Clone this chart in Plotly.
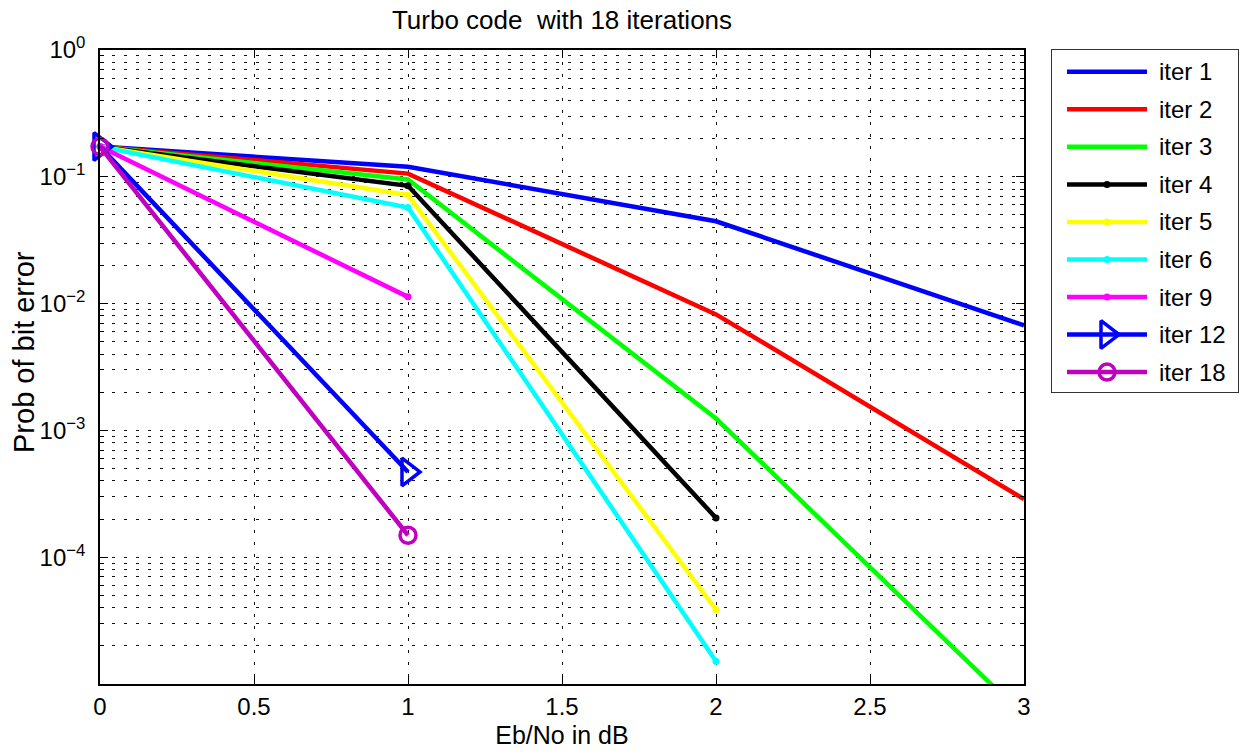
import plotly.graph_objects as go

# Eb/No points (dB) and bit error rates per decoder iteration
ebno_db = [0, 1, 2, 3]

ber_iter1 = [0.173, 0.120, 0.0446, 0.00673]
ber_iter2 = [0.173, 0.106, 0.00822, 2.87e-4]
ber_iter3 = [0.173, 0.0953, 1.24e-3, 5.6e-6]
ber_iter4 = [0.173, 0.0849, 2.04e-4]
ber_iter5 = [0.173, 0.0717, 3.85e-5]
ber_iter6 = [0.173, 0.0573, 1.51e-5]
ber_iter9 = [0.173, 0.0113]
ber_iter12 = [0.173, 4.7e-4]
ber_iter18 = [0.173, 1.49e-4]

series_names = ["iter 1", "iter 2", "iter 3", "iter 4", "iter 5",
                "iter 6", "iter 9", "iter 12", "iter 18"]
series_values = [ber_iter1, ber_iter2, ber_iter3, ber_iter4, ber_iter5,
                 ber_iter6, ber_iter9, ber_iter12, ber_iter18]
series_colors = ["#0000ff", "#ff0000", "#00ff00", "#000000", "#ffff00",
                 "#00ffff", "#ff00ff", "#0000ff", "#bf00bf"]
series_markers = [None, None, None, "dot", "dot", "dot", "dot", "tri", "circ"]

x_ticks = [0, 0.5, 1, 1.5, 2, 2.5, 3]
x_tick_text = ["0", "0.5", "1", "1.5", "2", "2.5", "3"]
y_ticks = [1e-4, 1e-3, 1e-2, 1e-1, 1]
y_tick_text = ["10<sup>\u22124</sup>", "10<sup>\u22123</sup>", "10<sup>\u22122</sup>",
               "10<sup>\u22121</sup>", "10<sup>0</sup>"]
decades = [1e-5, 1e-4, 1e-3, 1e-2, 1e-1]
y_minor = [m * d for d in decades for m in range(2, 10)]

FONT = "Liberation Sans, Arial, sans-serif"
LINE_W = 4.5
GRID_DASH = "3px,9px"

# pixel geometry of the figure
W, H = 1246, 754
ML, MR, MT, MB = 100, 8, 50, 70
PW, PH = W - ML - MR, H - MT - MB
plot_right = 1024
leg_left, leg_bottom = 1052, 392


def marker_style(kind, color):
    if kind == "dot":
        return dict(symbol="circle", size=7, color=color)
    if kind == "tri":
        return dict(symbol="triangle-right-open", size=24, color=color,
                    line=dict(width=3.5, color=color))
    if kind == "circ":
        return dict(symbol="circle-open", size=16, color=color,
                    line=dict(width=3.5, color=color))
    return None


fig = go.Figure()

for name, ber, color, mk in zip(series_names, series_values, series_colors, series_markers):
    xs = ebno_db[:len(ber)]
    kw = dict(x=xs, y=ber, name=name, line=dict(color=color, width=LINE_W),
              showlegend=False, xaxis="x", yaxis="y",
              cliponaxis=(min(ber) < 1e-5))
    if mk:
        kw["mode"] = "lines+markers"
        kw["marker"] = marker_style(mk, color)
    else:
        kw["mode"] = "lines"
    fig.add_trace(go.Scatter(**kw))

# legend panel drawn on its own small axes
for i, (name, color, mk) in enumerate(zip(series_names, series_colors, series_markers)):
    fig.add_trace(go.Scatter(x=[15, 95], y=[i, i], mode="lines",
                             line=dict(color=color, width=LINE_W),
                             xaxis="x2", yaxis="y2", showlegend=False,
                             hoverinfo="skip"))
    if mk:
        fig.add_trace(go.Scatter(x=[55], y=[i], mode="markers",
                                 marker=marker_style(mk, color),
                                 xaxis="x2", yaxis="y2", showlegend=False,
                                 hoverinfo="skip", cliponaxis=False))
    fig.add_annotation(x=105, y=i, xref="x2", yref="y2", text=name,
                       xanchor="left", yanchor="middle", showarrow=False,
                       font=dict(family=FONT, size=24, color="black"))

# y-axis title, placed beside the tick labels
fig.add_annotation(text="Prob of bit error", textangle=-90,
                   x=-76 / PW, xref="paper", xanchor="center",
                   y=(H - MB - 352) / PH, yref="paper", yanchor="middle",
                   showarrow=False, font=dict(family=FONT, size=29, color="black"))

axis_common = dict(showline=True, linecolor="black", linewidth=1.5,
                   mirror="allticks", ticks="inside", ticklen=8,
                   tickcolor="black", zeroline=False,
                   showgrid=True, gridcolor="#111111", gridwidth=1,
                   griddash=GRID_DASH,
                   tickfont=dict(family=FONT, size=24, color="black"))

fig.update_layout(
    width=W, height=H,
    margin=dict(l=ML, r=MR, t=MT, b=MB, autoexpand=False),
    paper_bgcolor="white", plot_bgcolor="white",
    font=dict(family=FONT, size=24, color="black"),
    title=dict(text="Turbo code&nbsp; with 18 iterations",
               x=((ML + plot_right) / 2 - ML) / PW, xref="paper", xanchor="center",
               y=1 - 20 / H, yref="container", yanchor="middle",
               font=dict(family=FONT, size=26, color="black")),
    xaxis=dict(domain=[0, (plot_right - ML) / PW], range=[0, 3],
               tickmode="array", tickvals=x_ticks, ticktext=x_tick_text,
               ticklabelstandoff=0, anchor="y",
               title=dict(text="Eb/No in dB", standoff=8,
                          font=dict(family=FONT, size=25, color="black")),
               **axis_common),
    yaxis=dict(type="log", range=[-5, 0], domain=[0, 1],
               tickmode="array", tickvals=y_ticks, ticktext=y_tick_text,
               ticklabelstandoff=8, anchor="x",
               minor=dict(tickmode="array", tickvals=y_minor, ticks="inside",
                          ticklen=4, tickcolor="black", showgrid=True,
                          gridcolor="#111111", gridwidth=1, griddash=GRID_DASH),
               **axis_common),
    xaxis2=dict(domain=[(leg_left - ML) / PW, 1], range=[0, 186], anchor="y2",
                showline=True, linecolor="#333333", linewidth=1.2, mirror=True,
                showgrid=False, zeroline=False, showticklabels=False, ticks="",
                fixedrange=True),
    yaxis2=dict(domain=[(H - MB - leg_bottom) / PH, 1], range=[8.53, -0.58], anchor="x2",
                showline=True, linecolor="#333333", linewidth=1.2, mirror=True,
                showgrid=False, zeroline=False, showticklabels=False, ticks="",
                fixedrange=True),
    showlegend=False,
)

fig.write_html("out.html")
